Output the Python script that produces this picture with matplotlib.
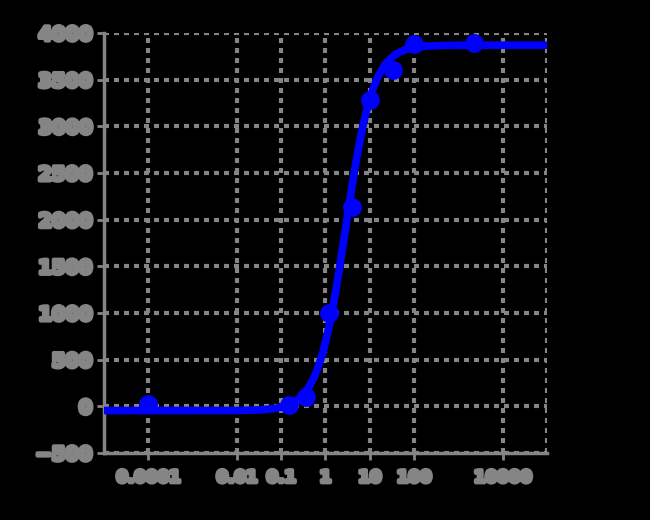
import matplotlib.pyplot as plt
import matplotlib.patheffects as pe
import numpy as np

# measured points
conc = [0.0001, 0.15, 0.37, 1.23, 3.9, 10, 33, 100, 2300]
resp = [20, 10, 105, 1005, 2140, 3285, 3605, 3885, 3895]

# fitted 4PL curve parameters
bottom = -45
top = 3870
ec50 = 2.85
hill = 1.4

xticks = [1e-4, 1e-2, 1e-1, 1, 10, 100, 1e4]
xlabels = ['0.0001', '0.01', '0.1', '1', '10', '100', '10000']
yticks = [-500, 0, 500, 1000, 1500, 2000, 2500, 3000, 3500, 4000]

gray = '#858585'

fig = plt.figure(figsize=(6.5, 5.2), dpi=100, facecolor='black')
ax = fig.add_axes([0.16, 0.1288, 0.6815, 0.8077])
ax.set_facecolor('black')

xs = np.logspace(-5, 5, 400)
fit = bottom + (top - bottom) / (1 + (ec50 / xs) ** hill)
ax.plot(xs, fit, color='blue', lw=5.5, solid_capstyle='round', zorder=3)
ax.plot(conc, resp, 'o', color='blue', ms=12.5, zorder=4)

ax.set_xscale('log')
ax.set_xlim(1e-5, 1e5)
ax.set_ylim(-500, 4000)
ax.set_xticks(xticks)
ax.set_xticklabels(xlabels)
ax.minorticks_off()
ax.set_yticks(yticks)

ax.grid(True, color=gray, lw=3, ls=(0, (1.2, 1.2)))
ax.axvline(1e5, color=gray, lw=3, ls=(0, (1.2, 1.2)))
ax.set_axisbelow(True)

for s in ['top', 'right']:
    ax.spines[s].set_visible(False)
for s in ['left', 'bottom']:
    ax.spines[s].set_color(gray)
    ax.spines[s].set_linewidth(2.5)

ax.tick_params(colors=gray, width=2, length=5)
ax.tick_params(axis='y', labelsize=14)
ax.tick_params(axis='x', labelsize=12, pad=6)
for lab in ax.get_xticklabels() + ax.get_yticklabels():
    lab.set_fontweight('bold')
    lab.set_color(gray)
    lab.set_path_effects([pe.withStroke(linewidth=3, foreground=gray)])

fig.savefig('out.png', dpi=100, facecolor='black')
